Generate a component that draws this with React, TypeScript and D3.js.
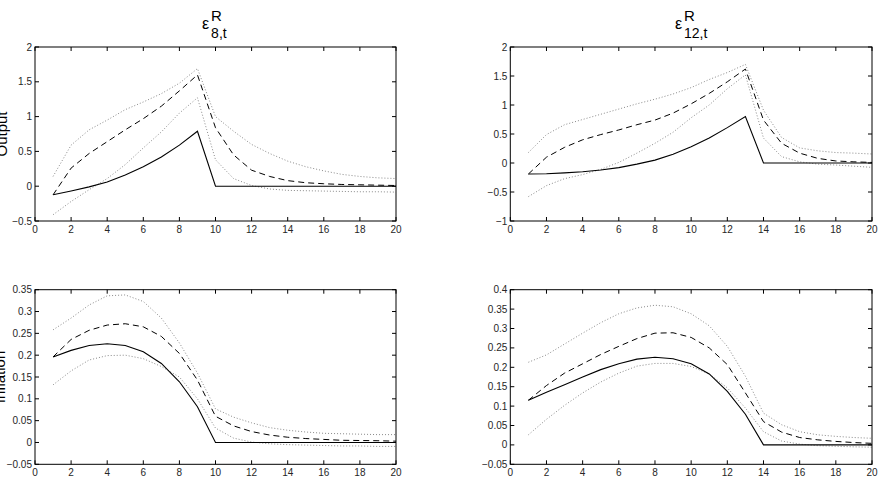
import React from "react";
import * as d3 from "d3";

// Horizon (periods 1..20)
const periods = d3.range(1, 21);

// Output response to the 8-period anticipated policy shock
const outSolid8 = [-0.124, -0.07, -0.01, 0.06, 0.16, 0.28, 0.42, 0.59, 0.79, 0, 0, 0, 0, 0, 0, 0, 0, 0, 0, 0];
const outDashed8 = [-0.124, 0.26, 0.47, 0.64, 0.81, 0.97, 1.15, 1.37, 1.6, 0.84, 0.45, 0.23, 0.14, 0.08, 0.05, 0.035, 0.025, 0.02, 0.015, 0.01];
const outUpper8 = [0.14, 0.59, 0.81, 0.95, 1.1, 1.21, 1.33, 1.48, 1.69, 1.0, 0.79, 0.6, 0.47, 0.36, 0.28, 0.22, 0.17, 0.14, 0.12, 0.11];
const outLower8 = [-0.41, -0.22, -0.05, 0.11, 0.31, 0.55, 0.78, 1.05, 1.27, 0.38, 0.11, 0.01, -0.04, -0.06, -0.065, -0.07, -0.075, -0.08, -0.08, -0.085];

// Output response to the 12-period anticipated policy shock
const outSolid12 = [-0.19, -0.185, -0.17, -0.15, -0.12, -0.08, -0.02, 0.05, 0.15, 0.28, 0.43, 0.61, 0.8, 0, 0, 0, 0, 0, 0, 0];
const outDashed12 = [-0.19, 0.1, 0.27, 0.4, 0.49, 0.57, 0.66, 0.74, 0.86, 1.02, 1.2, 1.4, 1.62, 0.74, 0.34, 0.17, 0.08, 0.035, 0.02, 0.01];
const outUpper12 = [0.18, 0.49, 0.66, 0.75, 0.84, 0.93, 1.02, 1.1, 1.19, 1.3, 1.44, 1.56, 1.7, 0.91, 0.44, 0.26, 0.21, 0.18, 0.17, 0.155];
const outLower12 = [-0.58, -0.39, -0.27, -0.2, -0.11, 0.01, 0.17, 0.34, 0.53, 0.78, 1.0, 1.28, 1.52, 0.43, 0.11, 0.02, -0.02, -0.035, -0.055, -0.075];

// Inflation response to the 8-period shock
const infSolid8 = [0.196, 0.211, 0.222, 0.226, 0.222, 0.208, 0.181, 0.139, 0.082, 0, 0, 0, 0, 0, 0, 0, 0, 0, 0, 0];
const infDashed8 = [0.196, 0.236, 0.257, 0.269, 0.272, 0.265, 0.243, 0.204, 0.143, 0.06, 0.038, 0.025, 0.017, 0.012, 0.009, 0.007, 0.005, 0.0045, 0.004, 0.003];
const infUpper8 = [0.258, 0.285, 0.315, 0.336, 0.338, 0.323, 0.285, 0.228, 0.159, 0.077, 0.058, 0.045, 0.034, 0.028, 0.024, 0.021, 0.02, 0.019, 0.018, 0.018];
const infLower8 = [0.132, 0.164, 0.189, 0.199, 0.2, 0.192, 0.174, 0.15, 0.1, 0.033, 0.01, 0.001, -0.003, -0.005, -0.006, -0.007, -0.008, -0.008, -0.009, -0.009];

// Inflation response to the 12-period shock
const infSolid12 = [0.115, 0.136, 0.155, 0.175, 0.194, 0.209, 0.221, 0.226, 0.222, 0.209, 0.183, 0.138, 0.079, 0, 0, 0, 0, 0, 0, 0];
const infDashed12 = [0.115, 0.153, 0.185, 0.209, 0.233, 0.254, 0.274, 0.288, 0.289, 0.277, 0.25, 0.207, 0.134, 0.06, 0.033, 0.019, 0.013, 0.009, 0.006, 0.004];
const infUpper12 = [0.213, 0.232, 0.26, 0.288, 0.315, 0.338, 0.353, 0.36, 0.356, 0.338, 0.307, 0.254, 0.177, 0.082, 0.052, 0.034, 0.026, 0.022, 0.019, 0.017];
const infLower12 = [0.026, 0.066, 0.102, 0.134, 0.162, 0.185, 0.203, 0.21, 0.21, 0.202, 0.183, 0.147, 0.095, 0.034, 0.01, 0.002, -0.002, -0.0035, -0.005, -0.006];

// Axis ticks
const xTicks = [0, 2, 4, 6, 8, 10, 12, 14, 16, 18, 20];
const yTicksOut8 = [-0.5, 0, 0.5, 1, 1.5, 2];
const yTicksOut12 = [-1, -0.5, 0, 0.5, 1, 1.5, 2];
const yTicksInf8 = [-0.05, 0, 0.05, 0.1, 0.15, 0.2, 0.25, 0.3, 0.35];
const yTicksInf12 = [-0.05, 0, 0.05, 0.1, 0.15, 0.2, 0.25, 0.3, 0.35, 0.4];

// Column titles (shock horizon subscripts) and row labels
const shockSubs = ["8,t", "12,t"];
const rowLabels = ["Output", "Inflation"];

const FONT = "'Liberation Sans', Arial, Helvetica, sans-serif";

const fmt = (v: number) => {
  if (v === 0) return "0";
  const s = String(+v.toFixed(2));
  return s.replace("-", "\u2212");
};

type PanelProps = {
  left: number;
  right: number;
  top: number;
  bottom: number;
  yTicks: number[];
  solid: number[];
  dashed: number[];
  upper: number[];
  lower: number[];
};

function Panel({ left, right, top, bottom, yTicks, solid, dashed, upper, lower }: PanelProps) {
  const x = d3.scaleLinear().domain([0, 20]).range([left, right]);
  const y = d3
    .scaleLinear()
    .domain([yTicks[0], yTicks[yTicks.length - 1]])
    .range([bottom, top]);
  const line = d3
    .line<number>()
    .x((_, i) => x(periods[i]))
    .y((d) => y(d));
  const tl = 4;
  return (
    <g>
      <path d={line(upper) || ""} fill="none" stroke="#8a8a8a" strokeWidth={1} strokeDasharray="1 2" />
      <path d={line(lower) || ""} fill="none" stroke="#8a8a8a" strokeWidth={1} strokeDasharray="1 2" />
      <path d={line(dashed) || ""} fill="none" stroke="#000" strokeWidth={1} strokeDasharray="6 4" />
      <path d={line(solid) || ""} fill="none" stroke="#000" strokeWidth={1.1} />
      <rect x={left} y={top} width={right - left} height={bottom - top} fill="none" stroke="#000" strokeWidth={1} />
      {xTicks.map((t) => (
        <g key={"x" + t}>
          <line x1={x(t)} x2={x(t)} y1={bottom} y2={bottom - tl} stroke="#000" />
          <line x1={x(t)} x2={x(t)} y1={top} y2={top + tl} stroke="#000" />
          <text x={x(t)} y={bottom + 12} textAnchor="middle" fontSize={10} fill="#262626" fontFamily={FONT}>
            {fmt(t)}
          </text>
        </g>
      ))}
      {yTicks.map((t) => (
        <g key={"y" + t}>
          <line x1={left} x2={left + tl} y1={y(t)} y2={y(t)} stroke="#000" />
          <line x1={right} x2={right - tl} y1={y(t)} y2={y(t)} stroke="#000" />
          <text x={left - 3} y={y(t) + 3.5} textAnchor="end" fontSize={10} fill="#262626" fontFamily={FONT}>
            {fmt(t)}
          </text>
        </g>
      ))}
    </g>
  );
}

function ShockTitle({ cx, sub }: { cx: number; sub: string }) {
  const epsW = 8;
  const subW = sub.length * 5.6 + 1;
  const leftX = cx - (epsW + 1 + subW) / 2;
  return (
    <g fontFamily={FONT} fill="#000">
      <text x={leftX} y={29} fontSize={16}>
        {"\u03b5"}
      </text>
      <text x={leftX + epsW + 1} y={21} fontSize={15}>
        R
      </text>
      <text x={leftX + epsW + 1} y={38} fontSize={14}>
        {sub}
      </text>
    </g>
  );
}

export default function App() {
  const colL = [35, 510.3];
  const colR = [396, 872];
  const rowT = [47, 289.7];
  const rowB = [221, 464.3];
  return (
    <svg
      width={882}
      height={494}
      viewBox="0 0 882 494"
      style={{ position: "absolute", left: 0, top: 0, background: "#fff" }}
    >
      <rect width={882} height={494} fill="#fff" />
      <ShockTitle cx={(colL[0] + colR[0]) / 2} sub={shockSubs[0]} />
      <ShockTitle cx={(colL[1] + colR[1]) / 2} sub={shockSubs[1]} />
      <text
        transform={`translate(7,${(rowT[0] + rowB[0]) / 2}) rotate(-90)`}
        textAnchor="middle"
        fontSize={15}
        fontFamily={FONT}
      >
        {rowLabels[0]}
      </text>
      <text
        transform={`translate(4.5,${(rowT[1] + rowB[1]) / 2}) rotate(-90)`}
        textAnchor="middle"
        fontSize={15}
        fontFamily={FONT}
      >
        {rowLabels[1]}
      </text>
      <Panel left={colL[0]} right={colR[0]} top={rowT[0]} bottom={rowB[0]} yTicks={yTicksOut8}
        solid={outSolid8} dashed={outDashed8} upper={outUpper8} lower={outLower8} />
      <Panel left={colL[1]} right={colR[1]} top={rowT[0]} bottom={rowB[0]} yTicks={yTicksOut12}
        solid={outSolid12} dashed={outDashed12} upper={outUpper12} lower={outLower12} />
      <Panel left={colL[0]} right={colR[0]} top={rowT[1]} bottom={rowB[1]} yTicks={yTicksInf8}
        solid={infSolid8} dashed={infDashed8} upper={infUpper8} lower={infLower8} />
      <Panel left={colL[1]} right={colR[1]} top={rowT[1]} bottom={rowB[1]} yTicks={yTicksInf12}
        solid={infSolid12} dashed={infDashed12} upper={infUpper12} lower={infLower12} />
    </svg>
  );
}
